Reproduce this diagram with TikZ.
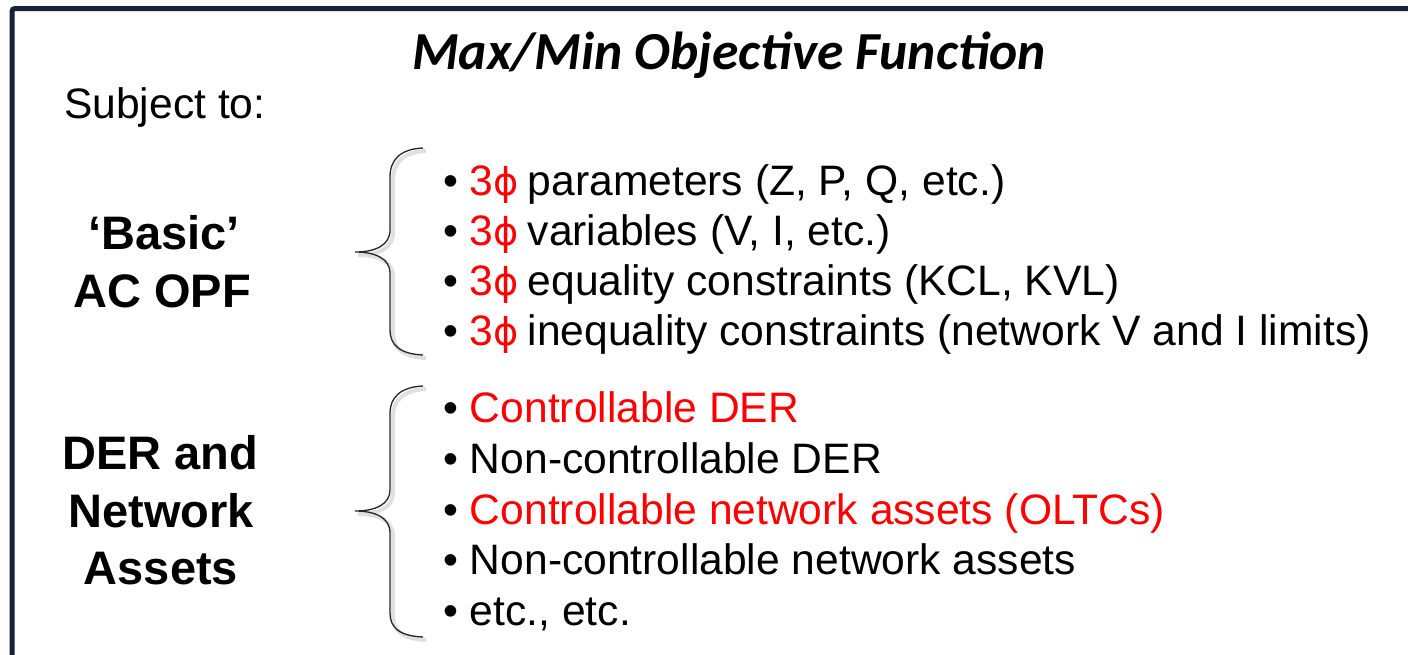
\documentclass[tikz,border=0pt]{standalone}
\usepackage{fontspec}
\setmainfont{Liberation Sans}
\newfontfamily\titlefont{Carlito}
\newfontfamily\phifont[Scale=0.9]{DejaVu Sans}
\definecolor{framenavy}{RGB}{22,33,62}
\definecolor{hotred}{RGB}{255,0,0}
\newcommand{\threephi}{\textcolor{hotred}{3{\phifont ϕ}}\kern-3pt}
\tikzset{
  frameline/.style={draw=framenavy, line width=5pt, rounded corners=3pt},
  titletext/.style={anchor=base, inner sep=0pt, font=\titlefont\bfseries\itshape\fontsize{53.5}{60}\selectfont},
  itemtext/.style={anchor=base west, inner sep=0pt, font=\fontsize{42.6}{50}\selectfont},
  grouplabel/.style={anchor=base, inner sep=0pt, font=\bfseries\fontsize{47}{56}\selectfont},
  bracepath/.style={draw=black!85, line width=1.3pt},
  braceshadow/.style={draw=black, opacity=0.12, line width=4pt},
}
\begin{document}
\begin{tikzpicture}[x=1pt,y=-1pt]
\useasboundingbox (0,0) rectangle (1408,654);
\fill[white] (0,0) rectangle (1408,654);
% outer frame, open towards the right and bottom edges
\path[frameline] (12,700) -- (12,8.5) -- (1460,8.5);

% heading
\node[titletext] (title) at (729,69) {Max/Min Objective Function};
\node[itemtext] (subj) at (64,118) {Subject to:};

% group labels
\node[grouplabel] (basicA) at (164,249) {‘Basic’};
\node[grouplabel] (basicB) at (162,307) {AC OPF};
\node[grouplabel] (derA) at (160,469) {DER and};
\node[grouplabel] (derB) at (161,527) {Network};
\node[grouplabel] (derC) at (161,584) {Assets};

% first group of items
\node[itemtext] (p1) at (443,195) {• \threephi{} parameters (Z, P, Q, etc.)};
\node[itemtext] (p2) at (443,245) {• \threephi{} variables (V, I, etc.)};
\node[itemtext] (p3) at (443,295) {• \threephi{} equality constraints (KCL, KVL)};
\node[itemtext] (p4) at (443,345) {• \threephi{} inequality constraints (network V and I limits)};

% second group of items
\node[itemtext] (a1) at (443,422) {• \textcolor{hotred}{Controllable DER}};
\node[itemtext] (a2) at (443,473) {• Non-controllable DER};
\node[itemtext] (a3) at (443,524) {• \textcolor{hotred}{Controllable network assets (OLTCs)}};
\node[itemtext] (a4) at (443,574) {• Non-controllable network assets};
\node[itemtext] (a5) at (443,625) {• etc., etc.};

% curly braces with a soft shadow
\begin{scope}[shift={(3,3)}]
\path[braceshadow] (423,148) .. controls (400,149) and (390,160) .. (390,177) -- (390,230)
  .. controls (390,245) and (376,252) .. (355,252)
  .. controls (376,252) and (390,259) .. (390,273) -- (390,330)
  .. controls (390,345) and (400,354) .. (423,355);
\path[braceshadow] (423,386) .. controls (400,387) and (390,398) .. (390,413) -- (390,490)
  .. controls (390,504) and (376,511) .. (355,511)
  .. controls (376,511) and (390,518) .. (390,533) -- (390,613)
  .. controls (390,628) and (400,636) .. (423,637);
\end{scope}
\path[bracepath] (423,148) .. controls (400,149) and (390,160) .. (390,177) -- (390,230)
  .. controls (390,245) and (376,252) .. (355,252)
  .. controls (376,252) and (390,259) .. (390,273) -- (390,330)
  .. controls (390,345) and (400,354) .. (423,355);
\path[bracepath] (423,386) .. controls (400,387) and (390,398) .. (390,413) -- (390,490)
  .. controls (390,504) and (376,511) .. (355,511)
  .. controls (376,511) and (390,518) .. (390,533) -- (390,613)
  .. controls (390,628) and (400,636) .. (423,637);
\end{tikzpicture}
\end{document}
